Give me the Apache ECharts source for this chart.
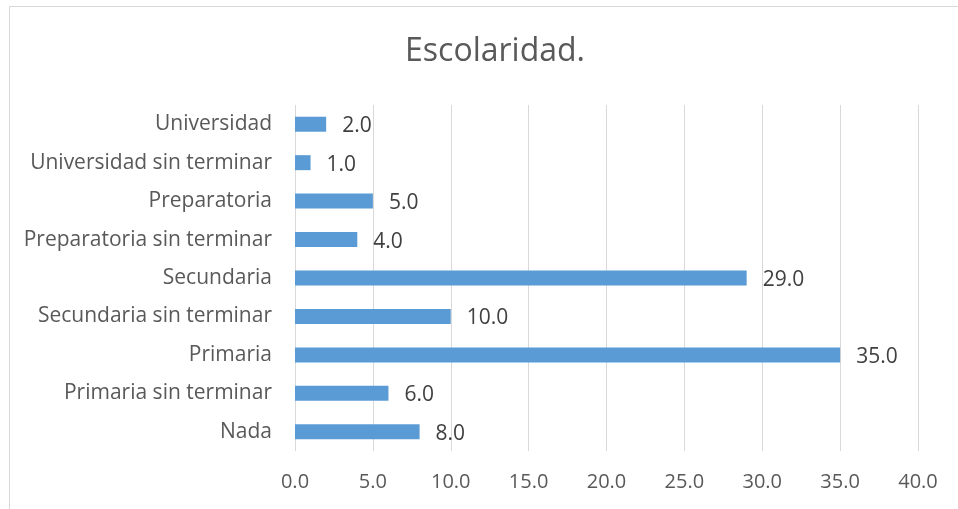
<!DOCTYPE html>
<html>
<head>
<meta charset="utf-8">
<script src="https://cdn.jsdelivr.net/npm/echarts@6/dist/echarts.min.js"></script>
<style>
  html, body { margin: 0; padding: 0; background: #fff; }
  #main { width: 958px; height: 509px; }
</style>
</head>
<body>
<div id="main"></div>
<script>
// categories listed bottom to top (category axis starts at bottom)
var categorias = ['Nada', 'Primaria sin terminar', 'Primaria', 'Secundaria sin terminar',
  'Secundaria', 'Preparatoria sin terminar', 'Preparatoria', 'Universidad sin terminar', 'Universidad'];
var valores = [8, 6, 35, 10, 29, 4, 5, 1, 2];
var ticksX = { min: 0, max: 40, interval: 5 };

var myChart = echarts.init(document.getElementById('main'));
var fuente = 'Open Sans';

myChart.setOption({
  animation: false,
  textStyle: { fontFamily: fuente },
  title: {
    text: 'Escolaridad.',
    left: 490,
    top: 31,
    textAlign: 'center',
    textStyle: { fontFamily: fuente, fontSize: 32, fontWeight: 'normal', color: '#595959' }
  },
  graphic: [{
    type: 'rect',
    shape: { x: 9.5, y: 6.5, width: 1000, height: 600 },
    style: { fill: 'none', stroke: '#d9d9d9', lineWidth: 1 },
    silent: true
  }],
  grid: { left: 295, right: 40, top: 105, bottom: 58 },
  xAxis: {
    type: 'value',
    min: ticksX.min,
    max: ticksX.max,
    interval: ticksX.interval,
    axisLine: { show: false },
    axisTick: { show: false },
    splitLine: { lineStyle: { color: '#d9d9d9', width: 1 } },
    axisLabel: {
      margin: 21,
      fontSize: 20,
      color: '#595959',
      formatter: function (v) { return v.toFixed(1); }
    }
  },
  yAxis: {
    type: 'category',
    data: categorias,
    axisLine: { show: false },
    axisTick: { show: false },
    axisLabel: { margin: 23, fontSize: 21, color: '#595959' }
  },
  series: [{
    type: 'bar',
    data: valores,
    barWidth: 15,
    itemStyle: { color: '#5B9BD5' },
    label: {
      show: true,
      position: 'right',
      distance: 16,
      offset: [0, 2],
      fontSize: 21,
      color: '#404040',
      formatter: function (p) { return p.value.toFixed(1); }
    }
  }]
});
</script>
</body>
</html>
